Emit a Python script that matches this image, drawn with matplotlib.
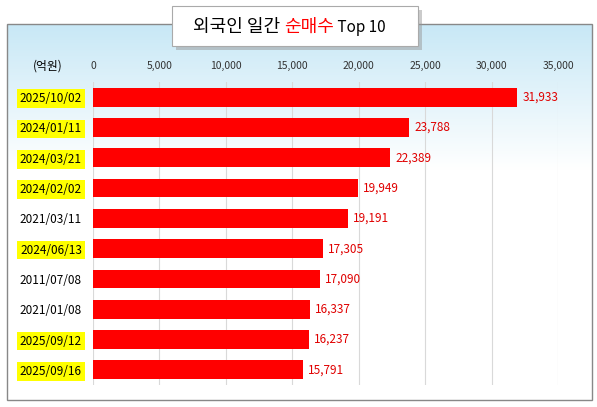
import matplotlib
matplotlib.use("Agg")
import matplotlib.pyplot as plt
import numpy as np
from matplotlib.patches import Rectangle, FancyBboxPatch

plt.rcParams['font.family'] = ['Noto Sans CJK KR', 'DejaVu Sans']

dates = ["2025/10/02", "2024/01/11", "2024/03/21", "2024/02/02", "2021/03/11",
         "2024/06/13", "2011/07/08", "2021/01/08", "2025/09/12", "2025/09/16"]
values = [31933, 23788, 22389, 19949, 19191, 17305, 17090, 16337, 16237, 15791]
highlight = [True, True, True, True, False, True, False, False, True, True]
ticks = [0, 5000, 10000, 15000, 20000, 25000, 30000, 35000]

W, H = 597, 407
fig = plt.figure(figsize=(W/100, H/100), dpi=100)

# background frame with gradient
bg = fig.add_axes([0, 0, 1, 1]); bg.set_xlim(0, W); bg.set_ylim(H, 0); bg.axis('off')
grad = np.linspace(0, 1, 256).reshape(-1, 1)
cmap = matplotlib.colors.LinearSegmentedColormap.from_list('g', ['#c8e8f6', '#ffffff'])
bg.imshow(grad, cmap=cmap, extent=[7, 592, 170, 24], aspect='auto', zorder=0)
bg.add_patch(Rectangle((7, 170), 585, 230, facecolor='white', zorder=0))
bg.add_patch(Rectangle((7, 24), 585, 376, fill=False, edgecolor='#888888', lw=1, zorder=1))
# title box
bg.add_patch(Rectangle((176, 10), 246, 40, facecolor='#999999', alpha=0.5, zorder=2))
bg.add_patch(Rectangle((172, 6), 246, 40, facecolor='white', edgecolor='#aaaaaa', lw=0.8, zorder=3))
t1 = bg.text(193, 27, "외국인 일간 ", fontsize=13, va='center', zorder=4)
fig.canvas.draw()
r = fig.canvas.get_renderer()
bb = t1.get_window_extent(r)
x2 = bb.x1
t2 = fig.text(x2/W, 1-27/H, "순매수", fontsize=13, color='red', va='center', zorder=5)
bb2 = t2.get_window_extent(r)
fig.text(bb2.x1/W, 1-27/H, " Top 10", fontsize=11, va='center', zorder=5)

ax = fig.add_axes([93/W, 1-385/H, (558-93)/W, (385-82)/H])
ax.patch.set_alpha(0)
y = np.arange(len(dates))
ax.barh(y, values, height=0.62, color='#ff0000', zorder=3)
ax.set_ylim(len(dates)-0.5, -0.5)
ax.set_xlim(0, 35000)
ax.set_xticks(ticks)
ax.set_xticklabels([f"{t:,}" for t in ticks], fontsize=7.5, color='#333333')
ax.xaxis.tick_top()
ax.tick_params(axis='x', length=0, pad=8)
ax.tick_params(axis='y', length=0, pad=8)
ax.set_yticks(y)
ax.set_yticklabels(dates, fontsize=8.5)
for lbl, h in zip(ax.get_yticklabels(), highlight):
    if h:
        lbl.set_bbox(dict(facecolor='#ffff00', edgecolor='none', pad=2))
ax.grid(axis='x', color='#d9d9d9', lw=0.8, zorder=0)
for s in ax.spines.values():
    s.set_visible(False)
for yi, v in zip(y, values):
    ax.text(v + 400, yi, f"{v:,}", va='center', fontsize=8.5, color='#e00000')
fig.text(48/W, 1-66/H, "(억원)", fontsize=8.5, ha='center', va='center')

fig.savefig("out.png", dpi=100)
